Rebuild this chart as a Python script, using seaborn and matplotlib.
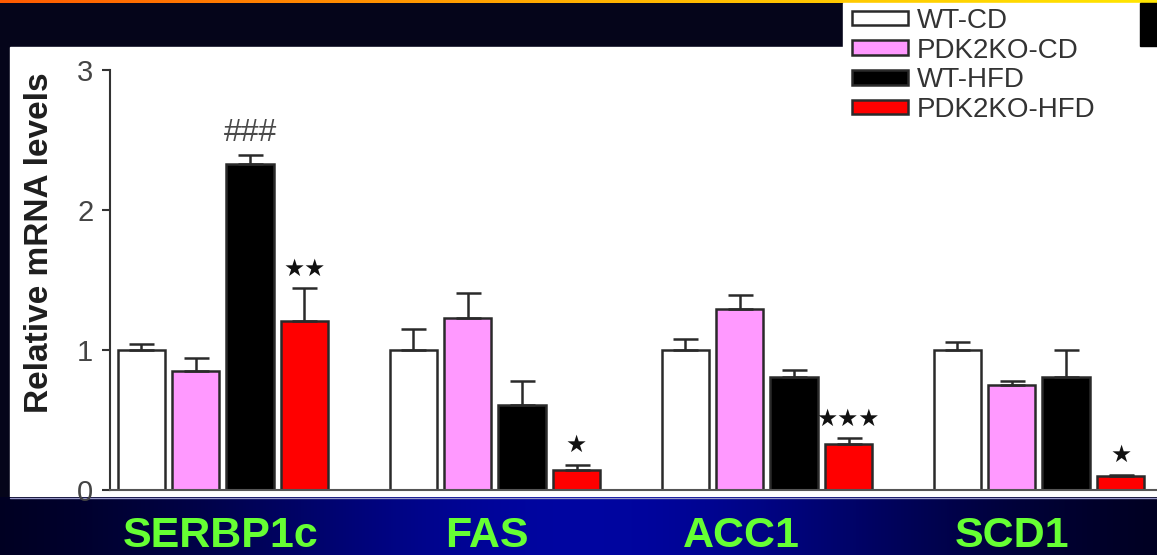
import numpy as np
import pandas as pd
import matplotlib
matplotlib.use("Agg")
import matplotlib.pyplot as plt
import matplotlib.transforms as mtransforms
from matplotlib.patches import Rectangle, Patch
from matplotlib.colors import LinearSegmentedColormap
import seaborn as sns

# ---- data -------------------------------------------------------------
genes = ["SERBP1c", "FAS", "ACC1", "SCD1"]
groups = ["WT-CD", "PDK2KO-CD", "WT-HFD", "PDK2KO-HFD"]

wt_cd = [1.00, 1.00, 1.00, 1.00]
ko_cd = [0.85, 1.23, 1.29, 0.75]
wt_hfd = [2.33, 0.61, 0.81, 0.81]
ko_hfd = [1.21, 0.14, 0.33, 0.10]

err_wt_cd = [0.04, 0.15, 0.08, 0.06]
err_ko_cd = [0.09, 0.18, 0.10, 0.03]
err_wt_hfd = [0.06, 0.17, 0.05, 0.19]
err_ko_hfd = [0.23, 0.04, 0.04, 0.01]

marks_wt_cd = ["", "", "", ""]
marks_ko_cd = ["", "", "", ""]
marks_wt_hfd = ["###", "", "", ""]
marks_ko_hfd = ["★★", "★", "★★★", "★"]

yticks = [0, 1, 2, 3]

colors = {"WT-CD": "#ffffff", "PDK2KO-CD": "#ff99ff",
          "WT-HFD": "#000000", "PDK2KO-HFD": "#ff0000"}

means = [wt_cd, ko_cd, wt_hfd, ko_hfd]
errs = [err_wt_cd, err_ko_cd, err_wt_hfd, err_ko_hfd]
marks = [marks_wt_cd, marks_ko_cd, marks_wt_hfd, marks_ko_hfd]

df = pd.DataFrame([
    {"gene": g, "group": grp, "value": v}
    for grp, vals in zip(groups, means)
    for g, v in zip(genes, vals)
])

# ---- style ------------------------------------------------------------
sns.set_theme(style="white")
plt.rcParams["font.family"] = ["Liberation Sans", "DejaVu Sans"]

W, H = 1157, 555
fig = plt.figure(figsize=(W / 100, H / 100), dpi=100)
fig.patch.set_facecolor("#05051a")

# ---- slide background ------------------------------------------------
bg = fig.add_axes([0, 0, 1, 1])
bg.set_zorder(0)
bg.axis("off")
bg.add_patch(Rectangle((0, 0), W, H, color="#05051a", zorder=0))
top_cmap = LinearSegmentedColormap.from_list("top", ["#ff5a00", "#ffb000", "#ffe600"])
bg.imshow(np.linspace(0, 1, 256)[None, :], extent=(0, W, 3.5, 0),
          aspect="auto", cmap=top_cmap, zorder=1)
bg.add_patch(Rectangle((10, 47), W - 10, 450, color="white", zorder=1))
xs = np.linspace(0, 1, 600)
glow = np.exp(-((xs - 0.5) / 0.33) ** 2)
band = np.zeros((1, xs.size, 3))
band[..., 1] = 0.02 * glow
band[..., 2] = 0.08 + 0.55 * glow
bg.imshow(band, extent=(0, W, H, 497), aspect="auto", zorder=1)
bg.plot([10, W], [497.5, 497.5], color="#9a9ac8", lw=1, zorder=2)
bg.add_patch(Rectangle((843, 3), 297, 122, color="white", zorder=2))
bg.add_patch(Rectangle((1140, 3), 17, 43, color="black", zorder=2))
bg.set_xlim(0, W)
bg.set_ylim(H, 0)

# ---- bar chart --------------------------------------------------------
ax = fig.add_axes([110 / W, (H - 490) / H, (W - 110) / W, 420 / H])
ax.set_zorder(1)
ax.set_facecolor("none")

sns.barplot(data=df, x="gene", y="value", hue="group", order=genes,
            hue_order=groups, palette=colors, saturation=1, width=0.8,
            gap=0.13, edgecolor="#2a2a2a", linewidth=1.8, errorbar=None,
            legend=False, ax=ax)

for cont, e_vals, m_vals in zip(ax.containers, errs, marks):
    xc = np.array([b.get_x() + b.get_width() / 2 for b in cont])
    hc = np.array([b.get_height() for b in cont])
    ev = np.array(e_vals)
    ax.errorbar(xc, hc, yerr=[np.zeros_like(ev), ev], fmt="none",
                ecolor="#2a2a2a", elinewidth=1.8, capsize=9, capthick=1.8,
                zorder=1)
    for x, top, m in zip(xc, hc + ev, m_vals):
        if not m:
            continue
        if m.startswith("#"):
            ax.text(x, top + 0.16, m, ha="center", va="center", fontsize=23,
                    color="#4a4a4a", clip_on=False)
        else:
            ax.text(x, top + 0.14, m, ha="center", va="center",
                    fontsize=17, family=["DejaVu Sans"], color="#111111",
                    clip_on=False)

ax.set_ylim(0, 3)
ax.set_xlim(-0.415, 3.434)
ax.set_yticks(yticks)
ax.set_yticklabels([str(t) for t in yticks])
ax.tick_params(axis="y", direction="out", length=6, width=1.5,
               colors="#333333", labelcolor="#444444", labelsize=21, pad=6,
               left=True)
ax.tick_params(axis="x", length=0, labelbottom=False)
ax.set_xlabel("")
ax.set_ylabel("")
for side in ("top", "right"):
    ax.spines[side].set_visible(False)
ax.spines["left"].set_color("#333333")
ax.spines["left"].set_linewidth(1.5)
ax.spines["bottom"].set_color("#555555")
ax.spines["bottom"].set_linewidth(1.5)

# gene names under each group
label_shift = [-2, -8, -26, -27]
for i, (g, dx) in enumerate(zip(genes, label_shift)):
    tr = mtransforms.offset_copy(ax.get_xaxis_transform(), fig=fig,
                                 x=dx, y=0, units="dots")
    ax.text(i, -0.136, g, transform=tr, ha="center", va="baseline",
            fontsize=31, fontweight="bold", color="#66ff33", clip_on=False)

fig.text(40 / W, 1 - 243 / H, "Relative mRNA levels", rotation=90,
         ha="center", va="center", fontsize=24, fontweight="bold",
         color="#1e1e1e")

# ---- legend ------------------------------------------------------------
handles = [Patch(facecolor=colors[g], edgecolor="#2a2a2a", linewidth=1.8)
           for g in groups]
leg = fig.legend(handles, groups, loc="upper left",
                 bbox_to_anchor=(852 / W, 1 - 8 / H), frameon=False,
                 fontsize=20, borderpad=0, borderaxespad=0,
                 handlelength=2.0, handleheight=0.44, handletextpad=0.33,
                 labelspacing=0.13)
for t in leg.get_texts():
    t.set_color("#333333")
leg.set_zorder(5)

fig.savefig("out.png", dpi=100, facecolor=fig.get_facecolor())
